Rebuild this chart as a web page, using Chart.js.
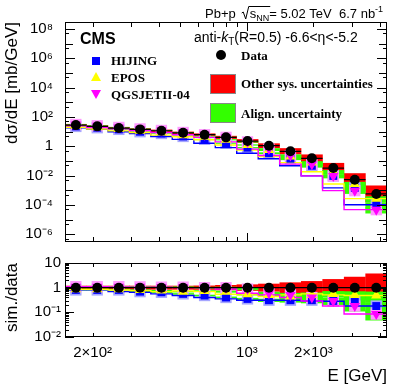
<!DOCTYPE html>
<html>
<head>
<meta charset="utf-8">
<script src="https://cdn.jsdelivr.net/npm/chart.js@4.4.1/dist/chart.umd.min.js"></script>
<style>
  html, body { margin: 0; padding: 0; background: #fff; }
  #wrap { position: relative; width: 407px; height: 388px; }
  canvas { position: absolute; left: 0; }
  #main { top: 0; }
  #ratio { top: 250px; }
</style>
</head>
<body>
<div id="wrap">
  <canvas id="main" width="407" height="250"></canvas>
  <canvas id="ratio" width="407" height="138"></canvas>
</div>
<script>
// Energy bins [GeV]
const binEdges = [150, 188, 235, 294, 367, 459, 575, 719, 899, 1125, 1407, 1760, 2200, 2753, 3444, 4308];
const binCentres = [168, 210, 263, 328, 410, 514, 643, 804, 1006, 1258, 1574, 1968, 2461, 3079, 3852];

// dsigma/dE [mb/GeV]
const dataXsec = [28, 23, 17.6, 14.3, 11.5, 8.4, 6.2, 4.1, 2.3, 1.1, 0.46, 0.153, 0.033, 0.0053, 0.00057];
const hijingXsec = [22.7, 18.6, 14.3, 9.9, 7.5, 4.7, 3.0, 1.64, 0.81, 0.34, 0.143, 0.047, 0.0096, 0.00148, 0.000103];
const eposXsec = [24.1, 19.8, 15.1, 11.4, 8.7, 5.8, 4.5, 2.8, 1.24, 0.56, 0.20, 0.078, 0.0185, 0.0027, 0.00027];
const qgsjetXsec = [30.8, 25.3, 19.4, 15.4, 12.1, 8.8, 6.2, 4.1, 2.0, 0.65, 0.235, 0.061, 0.0096, 0.00095, 0.000048];
const sysLoXsec = [23.2, 19.1, 14.6, 11.9, 9.5, 7.0, 5.1, 3.2, 1.7, 0.76, 0.28, 0.083, 0.0149, 0.0019, 0.000154];
const sysHiXsec = [33.6, 27.6, 21.1, 17.2, 13.8, 10.1, 7.6, 5.2, 3.1, 1.6, 0.75, 0.28, 0.074, 0.0147, 0.00214];

// sim./data
const dataRatio = [1, 1, 1, 1, 1, 1, 1, 1, 1, 1, 1, 1, 1, 1, 1];
const hijingRatio = [0.81, 0.81, 0.81, 0.69, 0.65, 0.56, 0.48, 0.40, 0.35, 0.31, 0.31, 0.31, 0.29, 0.28, 0.18];
const eposRatio = [0.86, 0.86, 0.86, 0.80, 0.76, 0.69, 0.73, 0.69, 0.54, 0.51, 0.44, 0.51, 0.56, 0.51, 0.48];
const qgsjetRatio = [1.1, 1.1, 1.1, 1.08, 1.05, 1.05, 1.0, 1.0, 0.88, 0.59, 0.51, 0.40, 0.29, 0.18, 0.085];
const sysLoRatio = [0.83, 0.83, 0.83, 0.83, 0.83, 0.83, 0.82, 0.78, 0.74, 0.69, 0.61, 0.54, 0.45, 0.36, 0.27];
const sysHiRatio = [1.2, 1.2, 1.2, 1.2, 1.2, 1.2, 1.22, 1.28, 1.36, 1.45, 1.64, 1.85, 2.23, 2.77, 3.76];

// relative alignment uncertainty on the simulations
const alignUnc = [0.05, 0.05, 0.05, 0.06, 0.06, 0.07, 0.08, 0.09, 0.1, 0.15, 0.2, 0.25, 0.3, 0.4, 0.45];

// Axis ticks
const mainYTicks = [1e-6, 1e-4, 1e-2, 1, 1e2, 1e4, 1e6, 1e8];
const ratioYTicks = [0.01, 0.1, 1, 10];
const xLabelTicks = [200, 1000, 2000];
const xTickLabels = ['2×10²', '10³', '2×10³'];

const SANS = "'Liberation Sans', Arial, Helvetica, sans-serif";
const SERIF = "'Liberation Serif', 'Times New Roman', serif";
Chart.defaults.font.family = SANS;
Chart.defaults.color = '#000';

const RED = '#ff0000', GREEN = '#33ff00', BLUE = '#0000ff', YELLOW = '#ffff00', MAGENTA = '#ff00ff';

const SUP = {'-': '⁻', '0': '⁰', '1': '¹', '2': '²', '3': '³', '4': '⁴', '5': '⁵', '6': '⁶', '7': '⁷', '8': '⁸', '9': '⁹'};
function powLabel(v) {
  const e = Math.round(Math.log10(v));
  if (e === 0) return '1';
  if (e === 1) return '10';
  return '10' + String(e).split('').map(c => SUP[c]).join('');
}

// dataset helpers
function boxes(lo, hi, color, order) {
  return {
    type: 'bar', order,
    data: binCentres.map((c, i) => ({x: c, y: [lo[i], hi[i]]})),
    backgroundColor: color, borderWidth: 0,
    barPercentage: 1, categoryPercentage: 1.03, grouped: false
  };
}
function alignBand(vals, order) {
  return boxes(vals.map((v, i) => v * (1 - alignUnc[i])), vals.map((v, i) => v * (1 + alignUnc[i])), GREEN, order);
}
function steps(vals, color, width, order) {
  return {
    type: 'line', order,
    data: binEdges.map((e, i) => ({x: e, y: vals[Math.min(i, vals.length - 1)]})),
    stepped: 'after', borderColor: color, borderWidth: width,
    pointRadius: 0, fill: false
  };
}
function errBars(vals, order) {
  const pts = [];
  vals.forEach((v, i) => {
    pts.push({x: binEdges[i], y: v}, {x: binEdges[i + 1], y: v}, {x: binEdges[i + 1], y: null});
  });
  return {type: 'line', order, data: pts, borderColor: '#000', borderWidth: 1.2, pointRadius: 0, spanGaps: false};
}
function markers(vals, style, color, radius, rotation, order) {
  return {
    type: 'line', order, showLine: false,
    data: binCentres.map((c, i) => ({x: c, y: vals[i]})),
    pointStyle: style, pointRadius: radius, pointRotation: rotation || 0,
    pointBackgroundColor: color, pointBorderColor: color, pointBorderWidth: 0
  };
}

function buildDatasets(d) {
  return [
    boxes(d.sysLo, d.sysHi, RED, 10),
    alignBand(d.hijing, 9.3),
    alignBand(d.epos, 9.2),
    alignBand(d.qgsjet, 9.1),
    markers(d.hijing, 'rect', '#a6a6ff', 8, 0, 8.2),
    markers(d.qgsjet, 'rect', '#ff99ff', 8, 0, 8.1),
    steps(d.hijing, BLUE, 1.4, 7.3),
    steps(d.epos, YELLOW, 1.4, 7.2),
    steps(d.qgsjet, MAGENTA, 1.4, 7.1),
    markers(d.hijing, 'rect', BLUE, 5.6, 0, 6),
    markers(d.epos, 'triangle', YELLOW, 6, 0, 5),
    markers(d.qgsjet, 'triangle', MAGENTA, 6, 180, 4),
    errBars(d.data, 3),
    markers(d.data, 'circle', '#000', 5, 0, 1)
  ];
}

// frame + inside ticks, ROOT style
const rootFrame = {
  id: 'rootFrame',
  afterDatasetsDraw(chart, args, o) {
    const {ctx, chartArea: a, scales} = chart;
    ctx.save();
    ctx.strokeStyle = '#000';
    ctx.lineWidth = 1;
    ctx.beginPath();
    o.xTicks.forEach(([v, len]) => {
      const px = Math.round(scales.x.getPixelForValue(v)) + 0.5;
      ctx.moveTo(px, a.bottom); ctx.lineTo(px, a.bottom - len);
      ctx.moveTo(px, a.top); ctx.lineTo(px, a.top + len);
    });
    o.yTicks.forEach(([v, len]) => {
      const py = Math.round(scales.y.getPixelForValue(v)) + 0.5;
      ctx.moveTo(a.left, py); ctx.lineTo(a.left + len, py);
      ctx.moveTo(a.right, py); ctx.lineTo(a.right - len, py);
    });
    ctx.stroke();
    ctx.strokeRect(Math.round(a.left) + 0.5, Math.round(a.top) + 0.5, Math.round(a.width) - 1, Math.round(a.height) - 1);
    ctx.restore();
  }
};

function xFrameTicks(minor, major) {
  const t = [];
  [200, 300, 400, 500, 600, 700, 800, 900, 2000, 3000, 4000].forEach(v => t.push([v, minor]));
  t.push([1000, major]);
  return t;
}
const mainYFrame = [];
for (let e = -6; e <= 8; e++) {
  mainYFrame.push([Math.pow(10, e), e % 2 === 0 ? 10 : 8]);
  mainYFrame.push([5 * Math.pow(10, e - 1), 4]);
}
const ratioYFrame = [];
for (let e = -2; e <= 0; e++) {
  for (let k = 1; k <= 9; k++) ratioYFrame.push([k * Math.pow(10, e), k === 1 ? 9 : 4]);
}

// text and legend of the upper pad
const headerText = {
  id: 'headerText',
  afterDraw(chart) {
    const ctx = chart.ctx;
    ctx.save();
    ctx.fillStyle = '#000';
    ctx.strokeStyle = '#000';
    ctx.textBaseline = 'alphabetic';

    // Pb+p sqrt(s_NN) = 5.02 TeV 6.7 nb^-1
    let x = 205, yb = 18;
    ctx.font = '13px ' + SANS;
    ctx.fillText('Pb+p', x, yb);
    x += ctx.measureText('Pb+p').width + 10;
    const sW = ctx.measureText('s').width;
    ctx.font = '9px ' + SANS;
    const nnW = ctx.measureText('NN').width;
    ctx.lineWidth = 1;
    ctx.beginPath();
    ctx.moveTo(x - 4, yb - 5);
    ctx.lineTo(x - 2.5, yb - 6);
    ctx.lineTo(x, yb + 1);
    ctx.lineTo(x + 3, yb - 11.5);
    ctx.lineTo(x + 4 + sW + nnW + 1, yb - 11.5);
    ctx.stroke();
    ctx.font = '13px ' + SANS;
    ctx.fillText('s', x + 4, yb);
    ctx.font = '9px ' + SANS;
    ctx.fillText('NN', x + 4 + sW, yb + 3);
    x += 4 + sW + nnW;
    ctx.font = '13px ' + SANS;
    const rest = '= 5.02 TeV  6.7 nb';
    ctx.fillText(rest, x, yb);
    x += ctx.measureText(rest).width;
    ctx.font = '9px ' + SANS;
    ctx.fillText('-1', x, yb - 6);

    // CMS
    ctx.font = 'bold 16px ' + SANS;
    ctx.fillText('CMS', 80, 44);

    // jet selection
    x = 194; yb = 42;
    ctx.font = '14px ' + SANS;
    ctx.fillText('anti-', x, yb);
    x += ctx.measureText('anti-').width;
    ctx.font = 'italic 14px ' + SANS;
    ctx.fillText('k', x, yb);
    x += ctx.measureText('k').width;
    ctx.font = '10px ' + SANS;
    ctx.fillText('T', x, yb + 3);
    x += ctx.measureText('T').width;
    ctx.font = '14px ' + SANS;
    ctx.fillText('(R=0.5) -6.6<η<-5.2', x, yb);

    // legend markers
    ctx.fillStyle = BLUE;
    ctx.fillRect(92, 57, 8, 8);
    ctx.fillStyle = YELLOW;
    ctx.beginPath();
    ctx.moveTo(96, 72); ctx.lineTo(101, 81); ctx.lineTo(91, 81); ctx.closePath(); ctx.fill();
    ctx.fillStyle = MAGENTA;
    ctx.beginPath();
    ctx.moveTo(91, 90); ctx.lineTo(101, 90); ctx.lineTo(96, 99); ctx.closePath(); ctx.fill();
    ctx.fillStyle = '#000';
    ctx.beginPath();
    ctx.arc(221, 55, 5, 0, 2 * Math.PI); ctx.fill();
    ctx.fillStyle = RED;
    ctx.fillRect(210, 74, 26, 20);
    ctx.fillStyle = GREEN;
    ctx.fillRect(210, 103, 26, 20);
    ctx.strokeStyle = '#888';
    ctx.strokeRect(210.5, 74.5, 25, 19);
    ctx.strokeRect(210.5, 103.5, 25, 19);

    // legend labels
    ctx.fillStyle = '#000';
    ctx.font = 'bold 13px ' + SERIF;
    ctx.fillText('HIJING', 111, 65);
    ctx.fillText('EPOS', 111, 81.5);
    ctx.fillText('QGSJETII-04', 111, 99);
    ctx.fillText('Data', 241, 60);
    ctx.fillText('Other sys. uncertainties', 241, 88);
    ctx.fillText('Align. uncertainty', 241, 118);
    ctx.restore();
  }
};

function yAxisFit(scale) {
  scale.width = 65;
  scale.paddingTop = 0;
  scale.paddingBottom = 0;
}

const mainChart = new Chart(document.getElementById('main'), {
  type: 'line',
  data: {
    datasets: buildDatasets({
      data: dataXsec, hijing: hijingXsec, epos: eposXsec, qgsjet: qgsjetXsec,
      sysLo: sysLoXsec, sysHi: sysHiXsec
    })
  },
  options: {
    responsive: false,
    devicePixelRatio: 1,
    animation: false,
    layout: {padding: {top: 22, right: 20, bottom: 7, left: 0}},
    plugins: {
      legend: {display: false},
      tooltip: {enabled: false},
      rootFrame: {xTicks: xFrameTicks(5, 9), yTicks: mainYFrame}
    },
    scales: {
      x: {
        type: 'logarithmic', min: 150, max: 4308, display: false,
        afterBuildTicks: s => { s.ticks = xLabelTicks.map(v => ({value: v})); }
      },
      y: {
        type: 'logarithmic', min: 3e-7, max: 3e8,
        grid: {display: false}, border: {display: false},
        afterBuildTicks: s => { s.ticks = mainYTicks.map(v => ({value: v})); },
        afterFit: yAxisFit,
        ticks: {
          padding: 4, autoSkip: false,
          font: {size: 15},
          callback: v => powLabel(v)
        },
        title: {
          display: true, text: 'dσ/dE [mb/GeV]', align: 'end',
          font: {size: 17}, padding: {top: 2, bottom: 0}
        }
      }
    }
  },
  plugins: [rootFrame, headerText]
});

const ratioChart = new Chart(document.getElementById('ratio'), {
  type: 'line',
  data: {
    datasets: buildDatasets({
      data: dataRatio, hijing: hijingRatio, epos: eposRatio, qgsjet: qgsjetRatio,
      sysLo: sysLoRatio, sysHi: sysHiRatio
    })
  },
  options: {
    responsive: false,
    devicePixelRatio: 1,
    animation: false,
    layout: {padding: {top: 13, right: 20, bottom: 0, left: 0}},
    plugins: {
      legend: {display: false},
      tooltip: {enabled: false},
      rootFrame: {xTicks: xFrameTicks(4, 7), yTicks: ratioYFrame}
    },
    scales: {
      x: {
        type: 'logarithmic', min: 150, max: 4308,
        grid: {display: false, drawTicks: false}, border: {display: false},
        afterBuildTicks: s => { s.ticks = xLabelTicks.map(v => ({value: v})); },
        afterFit: s => { s.height = 51; s.paddingLeft = 0; s.paddingRight = 0; },
        ticks: {
          padding: 7, autoSkip: false, maxRotation: 0,
          font: {size: 15},
          callback: (v, i) => xTickLabels[i]
        },
        title: {
          display: true, text: 'E [GeV]', align: 'end',
          font: {size: 17}, padding: {top: 0, bottom: 1}
        }
      },
      y: {
        type: 'logarithmic', min: 0.01, max: 10,
        grid: {display: false, drawTicks: false}, border: {display: false},
        afterBuildTicks: s => { s.ticks = ratioYTicks.map(v => ({value: v})); },
        afterFit: yAxisFit,
        ticks: {
          padding: 4, autoSkip: false,
          font: {size: 15},
          callback: v => powLabel(v)
        },
        title: {
          display: true, text: 'sim./data', align: 'end',
          font: {size: 17}, padding: {top: 2, bottom: 0}
        }
      }
    }
  },
  plugins: [rootFrame]
});
</script>
</body>
</html>
